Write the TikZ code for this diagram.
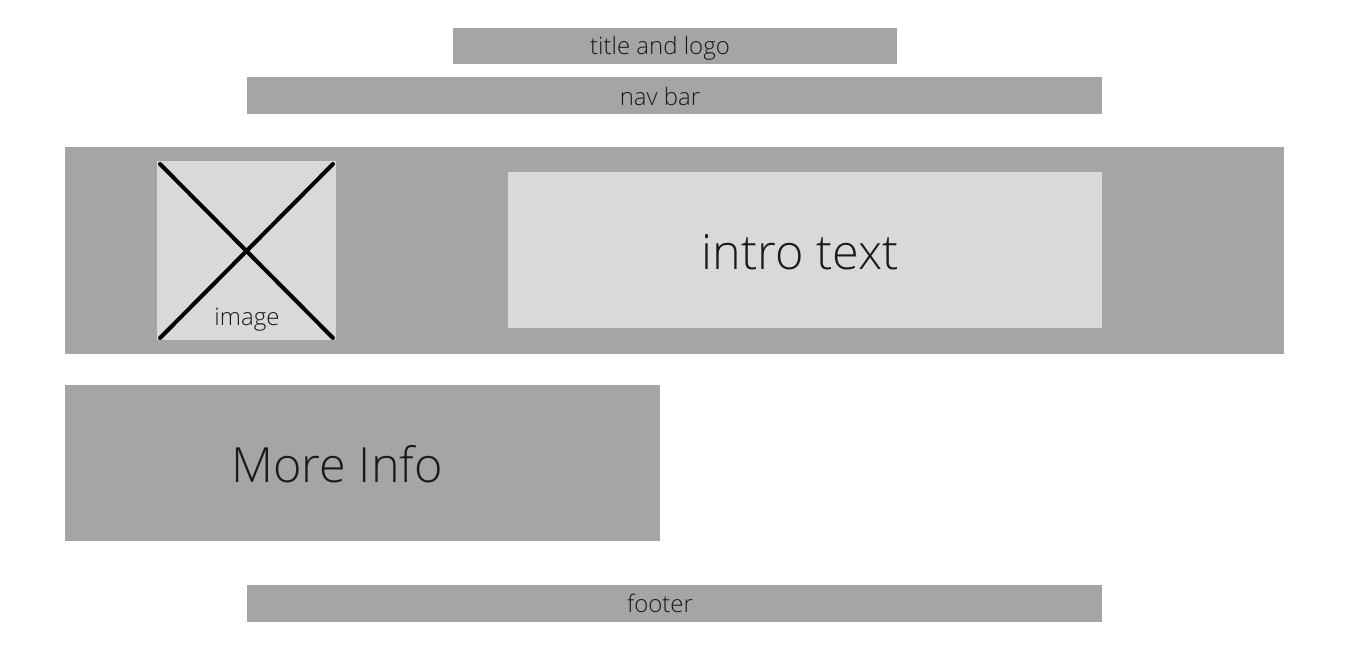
\documentclass[tikz,border=0pt]{standalone}
\usepackage{fontspec}
\setmainfont{Open Sans Light}
\begin{document}
\begin{tikzpicture}[x=1pt,y=-1pt,
  bar/.style={fill=boxgray,draw=none,inner sep=0pt,anchor=north west},
  lite/.style={fill=lightgray2,draw=none,inner sep=0pt,anchor=north west},
  small/.style={font=\fontsize{24}{28}\selectfont,text=txt,anchor=base,inner sep=0pt},
  big/.style={font=\fontsize{48.5}{56}\selectfont,text=txt,anchor=base,inner sep=0pt}]
\definecolor{boxgray}{HTML}{A5A5A5}
\definecolor{lightgray2}{HTML}{D9D9D9}
\definecolor{txt}{HTML}{1A1A1A}
\useasboundingbox[fill=white] (0,0) rectangle (1350,650);
% boxes
\node[bar,minimum width=444pt,minimum height=36pt] (title) at (453,28) {};
\node[bar,minimum width=855pt,minimum height=37pt] (nav) at (247,77) {};
\node[bar,minimum width=1219pt,minimum height=207pt] (band) at (65,147) {};
\node[lite,minimum width=179pt,minimum height=179pt] (img) at (157,161) {};
\node[lite,minimum width=594pt,minimum height=156pt] (intro) at (508,172) {};
\node[bar,minimum width=595pt,minimum height=156pt] (more) at (65,385) {};
\node[bar,minimum width=855pt,minimum height=37pt] (foot) at (247,585) {};
% cross
\coordinate (c1) at (160,164);
\coordinate (c2) at (333,338);
\coordinate (c3) at (333,164);
\coordinate (c4) at (160,338);
\draw[line width=4pt,line cap=round] (c1) -- (c2);
\draw[line width=4pt,line cap=round] (c3) -- (c4);
% labels
\node[small] (tTitle) at (660,55) {title and logo};
\node[small] (tNav) at (660,106) {nav bar};
\node[small] (tImg) at (247,325) {image};
\node[big] (tIntro) at (800,269) {intro text};
\node[big] (tMore) at (337,482) {More Info};
\node[small] (tFoot) at (660,612) {footer};
\end{tikzpicture}
\end{document}
